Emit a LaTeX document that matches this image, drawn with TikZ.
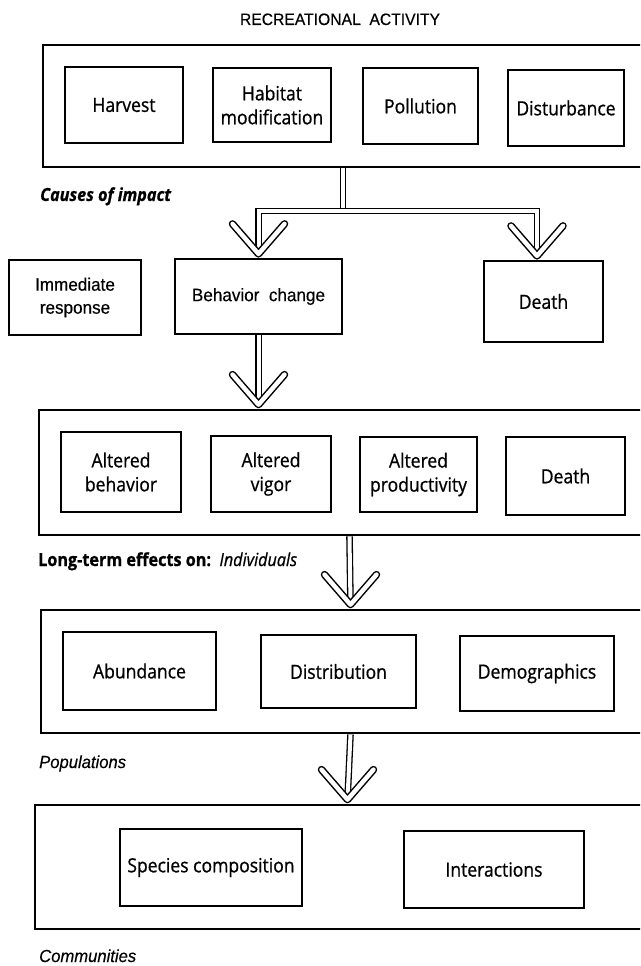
\documentclass[tikz,border=0pt]{standalone}
\usepackage{fontspec}
\setmainfont{Open Sans}
\newfontfamily\boxfont{Open Sans}[FakeStretch=0.9, FakeBold=0.8]
\newfontfamily\arfont{Liberation Sans}[FakeStretch=0.95, FakeBold=0.3]
\usetikzlibrary{calc}
\begin{document}
\begin{tikzpicture}[x=1pt,y=-1pt,
  outerbox/.style={draw, line width=2.8pt, inner sep=0pt},
  innerbox/.style={draw, line width=2.2pt, align=center, inner sep=0pt,
     font=\boxfont\fontsize{19.5}{24}\selectfont},
  arbox/.style={innerbox, font=\arfont\fontsize{18}{23}\selectfont},
  dbl/.style={draw, double, double distance=4pt, line width=1.3pt},
  lbl/.style={anchor=base west, inner sep=0pt, font=\fontsize{17}{20}\selectfont},
  vhead/.pic={
    \draw[line width=7.5pt, line cap=round, line join=round] (-26,-30) -- (0,0) -- (26,-30);
    \draw[line width=4.5pt, white, line cap=round, line join=round] (-26,-30) -- (0,0) -- (26,-30);
  }]
\useasboundingbox (0,0) rectangle (640,966);
\clip (0,0) rectangle (640,966);
\fill[white] (0,0) rectangle (640,966);

% title
\node[anchor=base, inner sep=0pt, font=\arfont\fontsize{16.5}{20}\selectfont] (title) at (340,25) {RECREATIONAL\ \ ACTIVITY};

% row 1
\node[outerbox, minimum width=617pt, minimum height=122pt] (row1) at (351.5,106) {};
\node[innerbox, minimum width=118pt, minimum height=76pt] (harvest) at (124,105) {Harvest};
\node[innerbox, minimum width=118pt, minimum height=74pt] (habitat) at (272,105) {Habitat\\modification};
\node[innerbox, minimum width=115pt, minimum height=76pt] (pollution) at (420.5,106) {Pollution};
\node[innerbox, minimum width=116pt, minimum height=76pt] (disturb) at (566,108) {Disturbance};
\node[lbl, font=\boxfont\bfseries\itshape\fontsize{18}{20}\selectfont] (causes) at (40,201) {Causes of impact};

% row 2 (immediate)
\node[arbox, minimum width=132pt, minimum height=75pt] (immed) at (75,297.5) {Immediate\\response};
\node[arbox, minimum width=167pt, minimum height=75pt] (beh) at (258.5,296.5) {Behavior\ \ change};
\node[innerbox, minimum width=119pt, minimum height=81pt] (death1) at (543.5,301.5) {Death};

% row 3 (long-term, individuals)
\node[outerbox, minimum width=621pt, minimum height=125pt] (row2) at (349.5,472.5) {};
\node[innerbox, minimum width=120pt, minimum height=80pt] (altbeh) at (121,472) {Altered\\behavior};
\node[innerbox, minimum width=120pt, minimum height=76pt] (altvig) at (271,474) {Altered\\vigor};
\node[innerbox, minimum width=117pt, minimum height=75pt] (altprod) at (418.5,474.5) {Altered\\productivity};
\node[innerbox, minimum width=119pt, minimum height=78pt] (death2) at (565.5,476) {Death};
\node[lbl, font=\boxfont\fontsize{18}{20}\selectfont] (longterm) at (38,566) {\textbf{Long-term effects on:}\ \ \textit{Individuals}};

% row 4 (populations)
\node[outerbox, minimum width=619pt, minimum height=123pt] (row3) at (350.5,671.5) {};
\node[innerbox, minimum width=153pt, minimum height=78pt] (abund) at (139.5,671) {Abundance};
\node[innerbox, minimum width=155pt, minimum height=73pt] (distr) at (338.5,671.5) {Distribution};
\node[innerbox, minimum width=154pt, minimum height=75pt] (demo) at (537,673.5) {Demographics};
\node[lbl, font=\arfont\itshape\fontsize{17.5}{20}\selectfont] (popul) at (39,768) {Populations};

% row 5 (communities)
\node[outerbox, minimum width=625pt, minimum height=124pt] (row4) at (347.5,867) {};
\node[innerbox, minimum width=182pt, minimum height=77pt] (species) at (211,867.5) {Species composition};
\node[innerbox, minimum width=180pt, minimum height=77pt] (interact) at (494,869.5) {Interactions};
\node[lbl, font=\arfont\itshape\fontsize{17.5}{20}\selectfont] (commun) at (39,962) {Communities};

% connectors
\coordinate (split) at (343,211);
\coordinate (rc) at (537,211);
\draw[dbl] (row1.south -| split) -- (split);
\draw[dbl] ($(beh.north)+(0,-4)$) -- (beh.north |- split) -- (rc) -- ($(rc |- death1.north)+(0,-4)$);
\pic at ($(beh.north)+(0,-4)$) {vhead};
\pic at ($(rc |- death1.north)+(0,-4)$) {vhead};

\draw[dbl] (beh.south) -- ($(beh.south |- row2.north)+(0,-4)$);
\pic at ($(beh.south |- row2.north)+(0,-4)$) {vhead};

\draw[dbl] (row2.south) -- ($(row3.north)+(0,-4)$);
\pic at ($(row3.north)+(0,-4)$) {vhead};

\draw[dbl] (row3.south) -- ($(row4.north)+(0,-4)$);
\pic at ($(row4.north)+(0,-4)$) {vhead};
\end{tikzpicture}
\end{document}
